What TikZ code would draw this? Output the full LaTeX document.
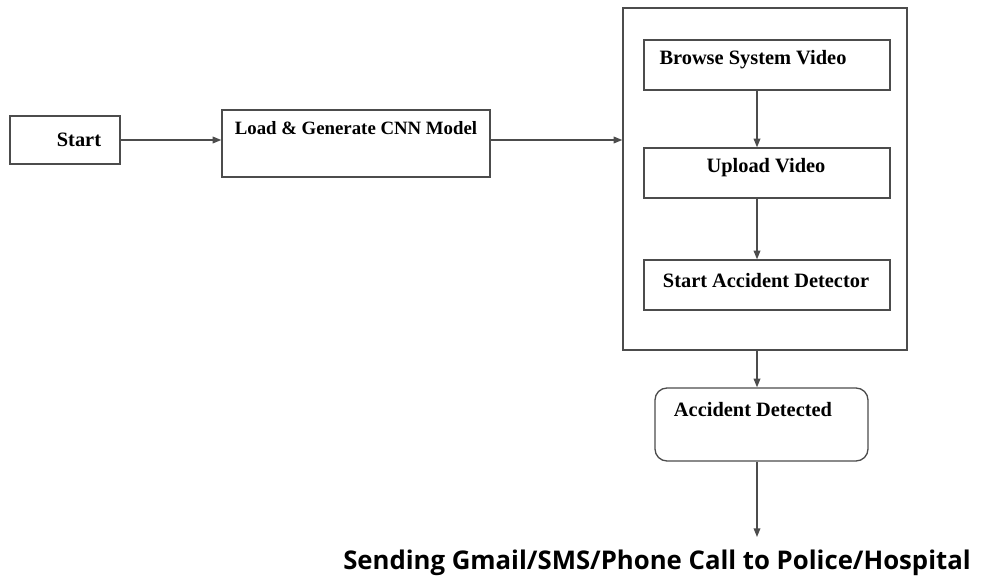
\documentclass[tikz,border=0pt]{standalone}
\usepackage{fontspec}
\setmainfont{Liberation Serif}
\newfontfamily\sendfont{Open Sans}
\usetikzlibrary{arrows.meta}

\begin{document}
\begin{tikzpicture}[x=0.75pt, y=-0.75pt,
        box/.style={rectangle, draw=black!70, line width=1pt, inner sep=0pt},
        txt/.style={inner sep=0pt, font=\bfseries\fontsize{15.3}{17}\selectfont},
        flow/.style={draw=black!70, line width=1pt, -{Triangle[length=6.5pt, width=5pt]}}]
        \useasboundingbox (0,0) rectangle (989,581);

        % Start block
        \node[box, minimum width=82.5pt, minimum height=36pt] (start) at (65,140) {};
        \node[txt] (starttxt) at (79,140) {Start};

        % CNN model block
        \node[box, minimum width=201pt, minimum height=50.25pt] (load) at (356,143.5) {};
        \node[txt, font=\bfseries\fontsize{14.1}{16}\selectfont] (loadtxt) at (356,128) {Load \& Generate CNN Model};

        % Outer frame with the three steps
        \node[box, minimum width=213pt, minimum height=256.5pt] (frame) at (765,179) {};
        \node[box, minimum width=184.5pt, minimum height=37.5pt] (browse) at (767,65) {};
        \node[txt] (browsetxt) at (753,60) {Browse System Video};
        \node[box, minimum width=184.5pt, minimum height=37.5pt] (upload) at (767,173) {};
        \node[txt] (uploadtxt) at (766,168) {Upload Video};
        \node[box, minimum width=184.5pt, minimum height=37.5pt] (detect) at (767,285) {};
        \node[txt] (detecttxt) at (766,281) {Start Accident Detector};

        % Result block
        \node[box, rounded corners=9pt, minimum width=159.75pt, minimum height=54.75pt] (found) at (761.5,424.5) {};
        \node[txt] (foundtxt) at (753,410) {Accident Detected};

        % Final message
        \coordinate (col) at (757,0);
        \coordinate (msgend) at (757,537);
        \node[inner sep=0pt, font=\sendfont\bfseries\fontsize{19.3}{22}\selectfont] (msg) at (657,563) {Sending Gmail/SMS/Phone Call to Police/Hospital};

        % Connect the blocks
        \draw[flow] (start.east) -- (start.east -| load.west);
        \draw[flow] (load.east |- start) -- (frame.west |- start);
        \draw[flow] (browse.south -| col) -- (upload.north -| col);
        \draw[flow] (upload.south -| col) -- (detect.north -| col);
        \draw[flow] (frame.south -| col) -- (found.north -| col);
        \draw[flow] (found.south -| col) -- (msgend);
    \end{tikzpicture}
\end{document}
